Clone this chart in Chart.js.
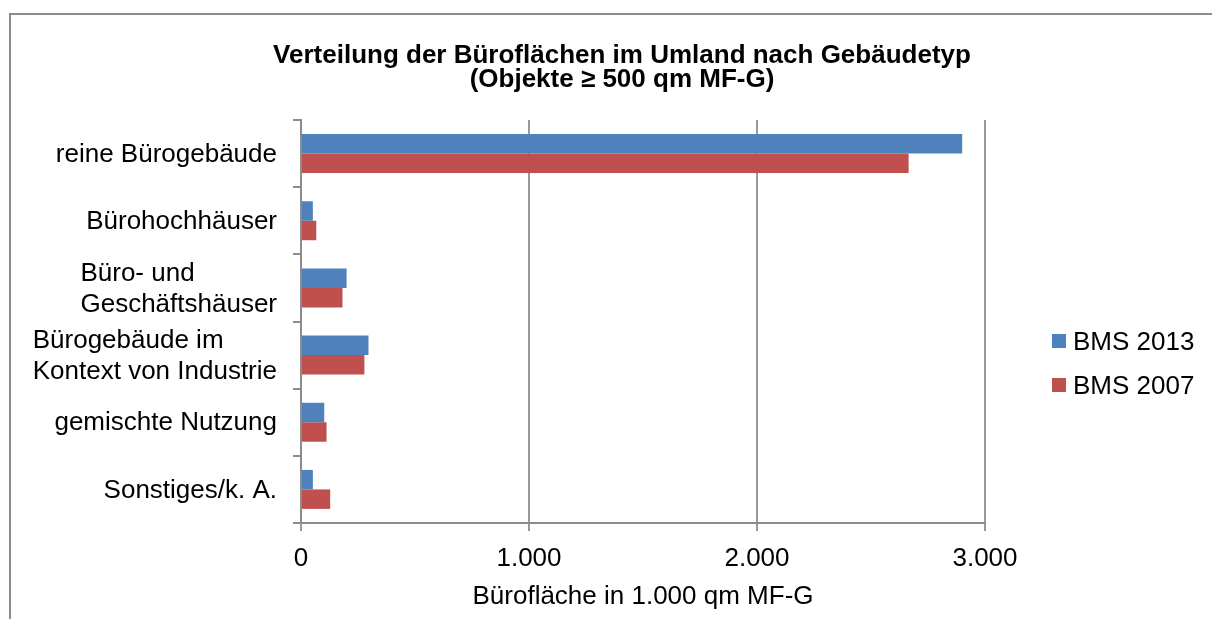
<!DOCTYPE html>
<html>
<head>
<meta charset="utf-8">
<script src="https://cdn.jsdelivr.net/npm/chart.js@4"></script>
<style>
    body { margin: 0; background: #fff; }
    #wrap { position: relative; width: 1212px; height: 619px; overflow: hidden; font-family: "Liberation Sans", Arial, sans-serif; }
    #frame { position: absolute; left: 9px; top: 13px; width: 1210px; height: 700px; border: 2px solid #8c8c8c; box-sizing: border-box; }
    #title { position: absolute; left: 222px; width: 800px; top: 42px; text-align: center; font-weight: bold; font-size: 26px; line-height: 24px; color: #000; }
    #legend { position: absolute; left: 1052px; top: 319px; font-size: 26px; color: #000; }
    #legend div { height: 44px; line-height: 44px; white-space: nowrap; }
    #legend span.box { display: inline-block; width: 14px; height: 14px; margin-right: 7px; vertical-align: 2px; }
    canvas { position: absolute; left: 0; top: 0; }
</style>
</head>
<body>
<div id="wrap">
    <div id="frame"></div>
    <canvas id="myChart" width="1212" height="619"></canvas>
    <div id="title">Verteilung der Büroflächen im Umland nach Gebäudetyp<br>(Objekte ≥ 500 qm MF-G)</div>
    <div id="legend"></div>
</div>
<script>
// categories (line breaks as in the original axis labels)
var categories = [
    ['reine Bürogebäude'],
    ['Bürohochhäuser'],
    ['Büro- und', 'Geschäftshäuser'],
    ['Bürogebäude im', 'Kontext von Industrie'],
    ['gemischte Nutzung'],
    ['Sonstiges/k. A.']
];
var seriesNames = ['BMS 2013', 'BMS 2007'];
// Bürofläche in 1.000 qm MF-G
var bms2013 = [2900, 52, 200, 296, 102, 52];
var bms2007 = [2665, 67, 182, 278, 112, 128];
var xTicks = [0, 1000, 2000, 3000];

var fontFamily = '"Liberation Sans", Arial, sans-serif';
Chart.defaults.font.family = fontFamily;
Chart.defaults.font.size = 26;
Chart.defaults.color = '#000';

// german thousands separator
var formatNumber = function (v) {
    return String(v).replace(/\B(?=(\d{3})+(?!\d))/g, '.');
};

// category labels: block right aligned to the axis, lines left aligned inside the block
var categoryLabels = {
    id: 'categoryLabels',
    afterDraw: function (chart) {
        var ctx = chart.ctx;
        var scale = chart.scales.y;
        var lineHeight = 31;
        ctx.save();
        ctx.font = '26px ' + fontFamily;
        ctx.fillStyle = '#000';
        ctx.textAlign = 'left';
        ctx.textBaseline = 'middle';
        chart.data.labels.forEach(function (lines, i) {
            var widest = 0;
            lines.forEach(function (l) { widest = Math.max(widest, ctx.measureText(l).width); });
            var x = scale.right - 24 - widest;
            var y = scale.getPixelForValue(i) + 1 - (lines.length - 1) * lineHeight / 2;
            lines.forEach(function (l, k) { ctx.fillText(l, x, y + k * lineHeight); });
        });
        ctx.restore();
    }
};

var colors = ['#4F81BD', '#C0504D'];
var ctx = document.getElementById('myChart').getContext('2d');

var chart = new Chart(ctx, {
    type: 'bar',
    data: {
        labels: categories,
        datasets: [{
            label: seriesNames[0],
            data: bms2013,
            backgroundColor: colors[0],
            barPercentage: 1,
            categoryPercentage: 0.58
        }, {
            label: seriesNames[1],
            data: bms2007,
            backgroundColor: colors[1],
            barPercentage: 1,
            categoryPercentage: 0.58
        }]
    },
    options: {
        indexAxis: 'y',
        responsive: false,
        animation: false,
        layout: { padding: { top: 120, right: 227, bottom: 7, left: 0 } },
        plugins: {
            legend: { display: false },
            tooltip: { enabled: false }
        },
        scales: {
            x: {
                min: 0,
                max: 3000,
                afterBuildTicks: function (scale) {
                    scale.ticks = xTicks.map(function (v) { return { value: v }; });
                },
                afterFit: function (scale) { scale.height = 89; },
                grid: { color: '#9a9a9a', lineWidth: 2, tickLength: 8, drawTicks: true },
                border: { display: true, color: '#8c8c8c', width: 2 },
                ticks: {
                    padding: 12,
                    callback: function (v) { return formatNumber(v); }
                },
                title: {
                    display: true,
                    text: 'Bürofläche in 1.000 qm MF-G',
                    padding: { top: 0, bottom: 0 }
                }
            },
            y: {
                afterFit: function (scale) { scale.width = 301; },
                grid: { drawOnChartArea: false, color: '#8c8c8c', lineWidth: 2, tickLength: 8 },
                border: { display: true, color: '#8c8c8c', width: 2 },
                ticks: { display: false }
            }
        }
    },
    plugins: [categoryLabels]
});

// legend built from the datasets
var legendBox = document.getElementById('legend');
chart.data.datasets.forEach(function (ds) {
    var row = document.createElement('div');
    row.innerHTML = '<span class="box" style="background:' + ds.backgroundColor + '"></span>' + ds.label;
    legendBox.appendChild(row);
});
</script>
</body>
</html>
